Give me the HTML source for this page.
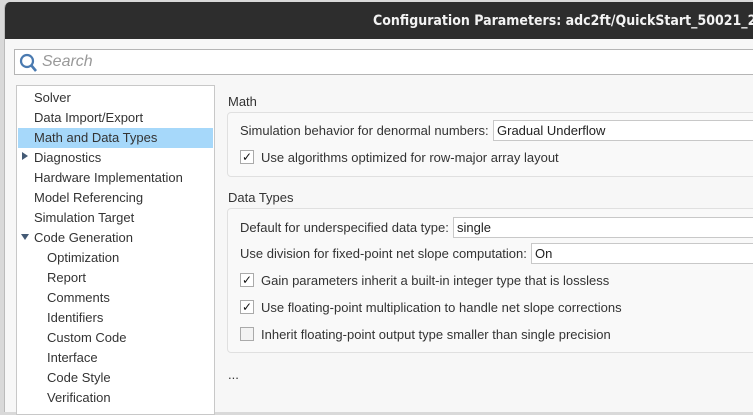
<!DOCTYPE html>
<html><head><style>
*{margin:0;padding:0;box-sizing:border-box}
body{width:753px;height:406px;overflow:hidden;background:#d9d9d9;font-family:"Liberation Sans",sans-serif;font-size:13px;color:#333;position:relative}
.win{position:absolute;left:4px;top:2px;width:760px;height:410px;background:#f7f7f7;border-radius:6px 0 0 0;overflow:hidden;border-left:1px solid #bbb}
.title{position:absolute;left:0;top:0;width:100%;height:37px;background:#2d2d2d;color:#f2f2f2;font-family:"DejaVu Sans Condensed","DejaVu Sans",sans-serif;font-weight:bold;font-size:14px}
.title span{position:absolute;left:368px;top:11px;white-space:nowrap}
.a{position:absolute;white-space:nowrap}
.search{position:absolute;left:14px;top:49px;width:760px;height:26px;background:#fff;border:1px solid #b5b5b5}
.tree{position:absolute;left:16px;top:85px;width:199px;height:330px;background:#fff;border:1px solid #c8c8c8}
.row{position:absolute;left:17px;width:178px;font-size:13px}
.grp{position:absolute;left:227px;width:540px;border:1px solid #e0e0e0;border-radius:4px;background:#f9f9f9}
.fld{position:absolute;height:21px;width:400px;background:#fff;border:1px solid #c8c8c8;padding:2px 3px;font-size:13px;color:#222}
.cb{position:absolute;left:240px;width:14px;height:14px;border:1px solid #aaa;background:#fff;font-size:12px;line-height:12px;text-align:center;color:#111}
</style></head><body>
<div class="win"><div class="title"><span>Configuration Parameters: adc2ft/QuickStart_50021_2</span></div></div>
<div class="search">
<svg style="position:absolute;left:4px;top:3px" width="20" height="20"><circle cx="8" cy="8" r="6" fill="none" stroke="#4a7ab0" stroke-width="2.2"/><line x1="12" y1="12" x2="17" y2="18" stroke="#4a7ab0" stroke-width="2.6"/></svg>
<span class="a" style="left:27px;top:3px;font-size:16px;font-style:italic;color:#999">Search</span></div>
<div class="tree">
<div style="position:absolute;left:1px;top:42px;width:195px;height:20px;background:#a6d8fa"></div>
<div class="row" style="top:4px">Solver</div>
<div class="row" style="top:24px">Data Import/Export</div>
<div class="row" style="top:44px">Math and Data Types</div>
<div class="a" style="left:5px;top:66px;width:0;height:0;border-left:6px solid #445a75;border-top:4px solid transparent;border-bottom:4px solid transparent"></div>
<div class="row" style="top:64px">Diagnostics</div>
<div class="row" style="top:84px">Hardware Implementation</div>
<div class="row" style="top:104px">Model Referencing</div>
<div class="row" style="top:124px">Simulation Target</div>
<div class="a" style="left:4px;top:148px;width:0;height:0;border-top:6px solid #445a75;border-left:4px solid transparent;border-right:4px solid transparent"></div>
<div class="row" style="top:144px">Code Generation</div>
<div class="row" style="left:30px;top:164px">Optimization</div>
<div class="row" style="left:30px;top:184px">Report</div>
<div class="row" style="left:30px;top:204px">Comments</div>
<div class="row" style="left:30px;top:224px">Identifiers</div>
<div class="row" style="left:30px;top:244px">Custom Code</div>
<div class="row" style="left:30px;top:264px">Interface</div>
<div class="row" style="left:30px;top:284px">Code Style</div>
<div class="row" style="left:30px;top:304px">Verification</div>
</div>
<div class="a" style="left:228px;top:94px">Math</div>
<div class="grp" style="top:112px;height:65px"></div>
<div class="a" style="left:240px;top:123px">Simulation behavior for denormal numbers:</div>
<div class="fld" style="left:493px;top:120px">Gradual Underflow</div>
<div class="cb" style="top:150px">✓</div>
<div class="a" style="left:261px;top:150px">Use algorithms optimized for row-major array layout</div>
<div class="a" style="left:228px;top:190px">Data Types</div>
<div class="grp" style="top:208px;height:145px"></div>
<div class="a" style="left:240px;top:220px">Default for underspecified data type:</div>
<div class="fld" style="left:453px;top:217px">single</div>
<div class="a" style="left:240px;top:246px">Use division for fixed-point net slope computation:</div>
<div class="fld" style="left:531px;top:243px">On</div>
<div class="cb" style="top:273px">✓</div>
<div class="a" style="left:261px;top:273px">Gain parameters inherit a built-in integer type that is lossless</div>
<div class="cb" style="top:300px">✓</div>
<div class="a" style="left:261px;top:300px">Use floating-point multiplication to handle net slope corrections</div>
<div class="cb" style="top:327px;background:#f3f3f3"></div>
<div class="a" style="left:261px;top:327px">Inherit floating-point output type smaller than single precision</div>
<div class="a" style="left:228px;top:367px">...</div>
</body></html>
